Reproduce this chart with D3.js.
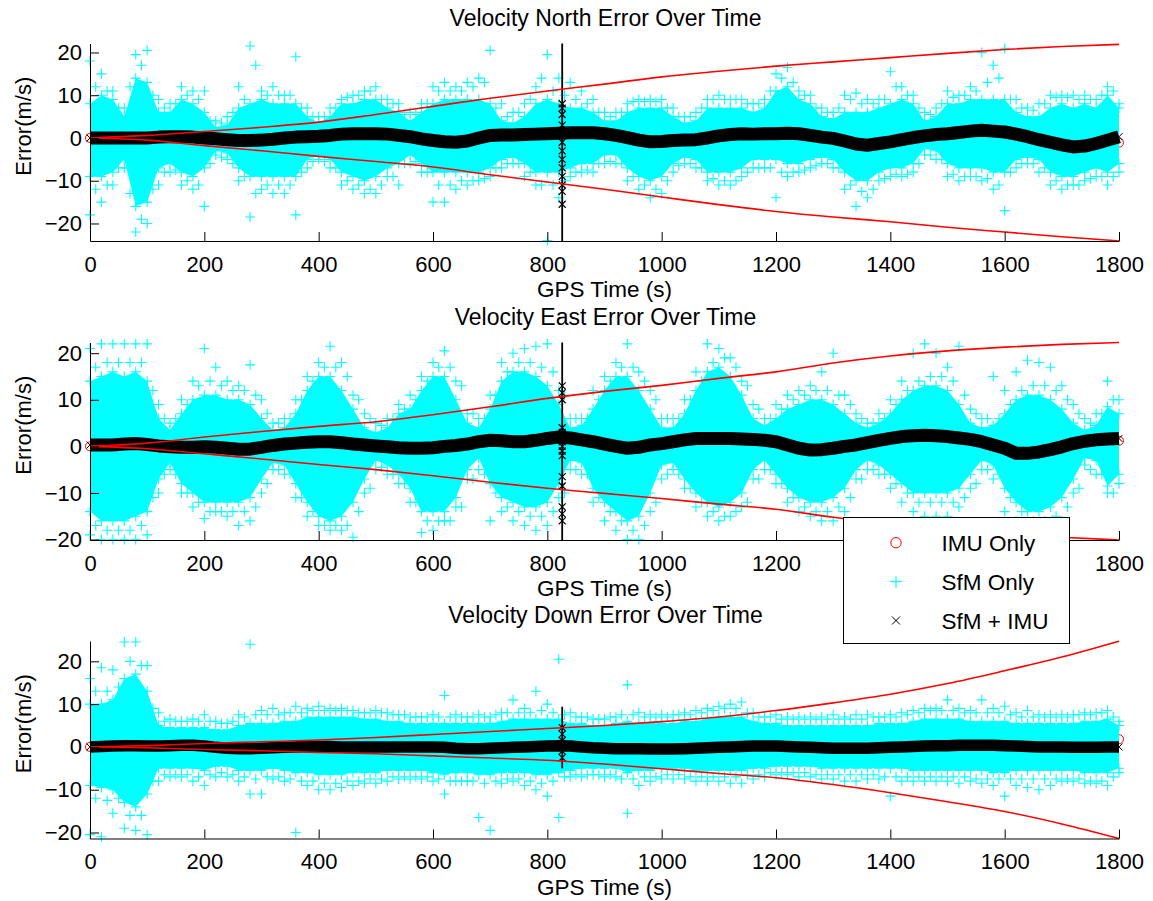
<!DOCTYPE html>
<html><head><meta charset="utf-8">
<script src="https://cdn.jsdelivr.net/npm/d3@7"></script>
<style>body{margin:0;background:#fff}svg text{font-family:"Liberation Sans",Arial,Helvetica,sans-serif;fill:#000}</style>
</head><body><svg id="c" width="1153" height="901"></svg>
<script>
// ---------- data ----------
const timeLimits = [0, 1800];
const xTickValues = [0,200,400,600,800,1000,1200,1400,1600,1800];
const yTickValues = [-20,-10,0,10,20];
const sampleTimes = [0,20,40,60,80,100,120,140,160,180,200,220,240,260,280,300,320,340,360,380,400,420,440,460,480,500,520,540,560,580,600,620,640,660,680,700,720,740,760,780,800,820,840,860,880,900,920,940,960,980,1000,1020,1040,1060,1080,1100,1120,1140,1160,1180,1200,1220,1240,1260,1280,1300,1320,1340,1360,1380,1400,1420,1440,1460,1480,1500,1520,1540,1560,1580,1600,1620,1640,1660,1680,1700,1720,1740,1760,1780,1800];
const fringeTimes = [10,30,50,70,90,110,130,150,170,190,210,230,250,270,290,310,330,350,370,390,410,430,450,470,490,510,530,550,570,590,610,630,650,670,690,710,730,750,770,790,810,830,850,870,890,910,930,950,970,990,1010,1030,1050,1070,1090,1110,1130,1150,1170,1190,1210,1230,1250,1270,1290,1310,1330,1350,1370,1390,1410,1430,1450,1470,1490,1510,1530,1550,1570,1590,1610,1630,1650,1670,1690,1710,1730,1750,1770,1790];
const boundTimes = [0,100,200,300,400,500,600,700,800,900,1000,1100,1200,1300,1400,1500,1600,1700,1800];
const imuTimes = [0, 1800];
const spikeTime = 826;
const legendLabels = ["IMU Only", "SfM Only", "SfM + IMU"];

// North
const northLimits = [-24.1, 22.1];
const northSfmHi = [8,10,9,5,14,13,6,6,9,8,6,2.5,3,7,8,9,8,8,8,5,3.5,5,8,8,9,9,7,6,4,6,8,9,9,9,9,8,4,3.5,5,8,9,8,7,7,6,4,4,6,7,7,7,5,3.5,4,7,7,7,7,6,7,11,12,9,8,5,4.5,6,6,6,7,8,9,8,4,5,8,8,9,9,9,9,6,5,5,7,8,7,8,7,10,7];
const northSfmLo = [-9,-9,-8,-5,-16,-15,-7,-6,-8,-9,-7,-3,-3.5,-7,-9,-9,-9,-9,-9,-5,-4,-5,-8,-9,-10,-9,-7,-6,-4,-6,-8,-8,-8,-8,-8,-7,-5,-4.5,-6,-8,-8,-8,-7,-6,-6,-4,-4,-7,-9,-10,-9,-6,-4.5,-5,-8,-8,-8,-7,-5,-5,-5,-6,-6,-5,-4.5,-5,-8,-10,-10,-8,-7,-7,-6,-2.5,-3,-6,-7,-7,-7,-8,-8,-5,-4.5,-5,-8,-9,-9,-8,-7,-8,-6];
const northSfmPeakHi = [18,15,11,7,19.5,20.5,9,8,12,11,11,4,5,12,21.5,11,12,10,19,7,5,7,9,10,11,12,9,8,6,8,12,13,12,13,14,20.5,8,6,8,12,19.5,14,13,11,9,6,6,8,9,9,9,7,5,6,9,10,9,9,8,9,15,16.5,11,10,7,6,10,10.5,9,9,15.5,12,10,6,7,11,10,12,20,17,21,9,7,8,10,10,10,10,9,12,8];
const northSfmPeakLo = [-18,-15,-11,-7,-22,-20,-11,-8,-11,-12,-16,-4,-5,-10,-18.5,-12,-13,-13,-18,-7,-5,-7,-11,-12,-13,-13,-9,-11,-6,-8,-15,-15,-12,-11,-10,-9,-7,-6,-9,-11,-24,-14,-9,-8,-8,-6,-6,-10,-12,-14,-13,-8,-6,-7,-10,-11,-11,-9,-7,-7,-14,-9,-8,-7,-6,-7,-12,-16,-14,-10,-9,-9,-8,-4,-5,-9,-10,-9,-10,-12,-17,-7,-6,-8,-11,-12,-11,-10,-9,-11,-8];
const northSfmFringeHi = [12,11,7,12,17,10,7,8,10,9,4,3.5,6,9,17,10,10,10,7,5,5,7,9.5,10,11,9,8,5.5,5.5,8,11,11,11,12,13,7,5,6,9,14,11,10,9,8,6,5,6,8.5,8.5,8.5,7,5,5,7,9,9,9,8,8,11,14,13,10,7,6,7,9,8,8,9,12,10,7,5.5,8,9.5,10,11,13,14,9,7,6.5,8,9.5,9.5,9,9,10,11];
const northSfmFringeLo = [-12,-11,-7,-13,-19,-12,-8,-7.5,-10,-11,-6,-4.5,-6,-9,-13,-11,-11,-11,-8,-5.5,-5.5,-7,-10,-11,-12,-11,-9,-6,-5.5,-8,-11,-11,-10,-10,-9.5,-7,-6,-6,-8,-11,-11,-10,-8,-7.5,-6,-5.5,-6,-9,-11,-12,-10,-6.5,-6,-7,-9.5,-10,-10,-8,-7,-7,-8,-8,-7.5,-6.5,-6,-7,-11,-12.5,-12,-9.5,-8.5,-8.5,-6,-4,-5,-8.5,-9,-9,-9.5,-11,-8,-6,-6,-7,-10,-11,-11,-9.5,-9,-9];
const northFused = [0,0,0,0,0,0,0.2,0.3,0.3,0.2,0,-0.2,-0.4,-0.6,-0.6,-0.5,-0.3,0,0.2,0.3,0.4,0.6,0.9,1.0,1.0,1.0,0.9,0.6,0.3,-0.2,-0.6,-0.9,-1.0,-0.7,0,0.6,0.7,0.7,0.8,0.9,1.0,1.1,1.2,1.2,1.2,1.0,0.6,0.1,-0.5,-0.9,-0.8,-0.6,-0.5,-0.4,0,0.5,0.8,1.0,0.9,1.0,1.0,1.1,1.0,0.6,0.2,-0.1,-0.7,-1.4,-1.7,-1.3,-0.9,-0.4,0.1,0.5,0.8,1.0,1.3,1.6,1.8,1.6,1.4,0.9,0.3,-0.4,-1.0,-1.6,-2.1,-1.9,-1.3,-0.5,0.3];
const northImuUpper = [0,0.6,1.5,2.5,3.7,5.5,7.4,9.3,11.0,12.6,14.3,15.6,16.8,17.8,18.8,19.8,20.7,21.4,21.9];
const northImuLower = [0,-0.5,-1.8,-3.0,-4.3,-5.5,-6.8,-8.6,-10.3,-12.0,-13.8,-15.6,-17.2,-18.5,-19.6,-20.9,-22.0,-23.1,-24.1];
const northImu = [0, -1.1];
const northSpikeRange = [-24.1, 22.1];
const northSpikeMarks = [8,7,5.5,3,1,-1,-3,-5,-7,-9,-11,-12.5,-15.5];

// East
const eastLimits = [-20.1, 22.3];
const eastSfmHi = [14,15,16,15,16,14,6,3.5,7,10,11,11,10,10,9,6,3.5,4,7,12,15,15,12,8,4,3,4,7,8,12,15,15,10,5,4,8,14,16,16,15,13,9,4,4.5,8,12,15,15,12,8,4,4,7,12,16,17,15,11,6,4.5,6,8,9,10,10,9,7,5,4,5,7,10,12,13,13,12,9,5,4,4.5,7,10,11,11,10,8,5,3.5,4.5,8.5,7];
const eastSfmLo = [-14,-16,-16,-16,-15,-14,-7,-3.5,-8,-10,-12,-12,-12,-12,-11,-7,-3.5,-4,-8,-12,-15,-16,-15,-12,-7,-3,-4,-6,-9,-14,-14,-14,-11,-5,-2.5,-8,-11,-12,-13,-13,-12,-8,-3,-3.5,-9,-12,-14,-16,-15,-10,-4,-3.5,-7,-10,-12,-13,-12,-10,-5,-3,-6,-9,-11,-12,-12,-11,-9,-5,-3,-4,-6,-8,-10,-10,-10,-10,-9,-6,-3,-4,-9,-12,-14,-14,-13,-11,-7,-2.5,-3,-8.5,-6];
const eastSfmPeakHi = [21,22,22,22,22,22,9,5,10,14,21,17,14,13,17.5,10,5,6,10,15,18,21.5,18,11,7,5,6,9,11,15,18,20.5,14,7,6,11,18,20,21,21.5,22,12,6,6,12,15,18,22,16,12,6,6,10,16,22,21,19,14,9,6,9,11,12,13,16,20,11,7,5,7,10,14,20,22,20,17,21.5,8,6,15,12,16,18.5,18,17,13,9,6,7,14,10];
const eastSfmPeakLo = [-19,-20,-20,-20,-20,-19,-10,-5,-10,-13,-15.5,-14,-15,-17,-16,-10,-5,-6,-11,-15,-17,-18,-18,-19.5,-10,-5,-6,-8,-12,-18.5,-18,-16,-13,-7,-5,-16,-14,-16,-17,-18,-17,-11,-5,-6,-12,-16,-18,-20,-20,-14,-7,-5,-9,-13,-15,-16,-15,-13,-7,-5,-8,-12,-14,-15,-16,-16,-14,-7,-5,-6,-9,-12,-14,-15,-15,-15,-13,-9,-5,-7,-14,-16,-18,-19,-18,-16,-10,-4,-6,-10,-8];
const eastSfmFringeHi = [17,18,18,18,18,12,6,6,9,13,14,13,12,12,11,7,5,6,10,14,17,17,15,10,6,4.5,6,8,10,14,17,17,13,7,6,11,16,18,18,17,16,11,6,6,10,14,17,17,14,10,6,6,10,14,18,19,17,13,8,6,8,10,11,12,12,11,9,6,5,6,9,12,14,15,15,14,11,7,6,6,9,12,13,13,12,10,7,5,7,10];
const eastSfmFringeLo = [-17,-18,-18,-18,-17,-11,-6,-6,-10,-12,-14,-14,-14,-14,-13,-8,-5,-6,-11,-14,-17,-17,-17,-14,-9,-4.5,-6,-8,-12,-16,-16,-16,-13,-7,-6,-10,-13,-14,-15,-15,-14,-10,-5,-6,-11,-14,-16,-18,-17,-12,-6,-6,-9,-12,-14,-15,-14,-12,-7,-5,-8,-11,-13,-14,-14,-13,-11,-7,-5,-6,-8,-10,-12,-12,-12,-12,-11,-8,-5,-6,-11,-14,-16,-16,-15,-13,-9,-5,-6,-10];
const eastFused = [0.3,0.3,0.3,0.5,0.6,0.4,0.1,-0.1,-0.2,-0.2,-0.1,-0.2,-0.4,-0.6,-0.6,-0.2,0.2,0.5,0.7,0.9,1.0,1.0,0.8,0.5,0.3,0.1,-0.1,-0.3,-0.4,-0.4,-0.3,0,0.2,0.5,1.0,1.3,1.2,1.0,1.0,1.3,1.7,2.0,1.8,1.4,1.0,0.5,0,-0.4,-0.2,0.3,0.6,1.0,1.4,1.7,1.7,1.7,1.7,1.6,1.5,1.3,1.0,0.3,-0.4,-0.8,-0.7,-0.4,0,0.3,0.8,1.3,1.7,2.1,2.3,2.4,2.3,2.1,1.8,1.5,1.0,0.3,-0.4,-1.5,-1.5,-1.2,-0.7,-0.1,0.6,1.1,1.4,1.6,1.7];
const eastImuUpper = [0,0.7,2.0,3.2,4.3,5.3,6.8,8.5,10.3,11.8,13.1,14.6,16.0,17.9,19.4,20.5,21.3,21.9,22.3];
const eastImuLower = [0,-0.5,-1.6,-2.7,-3.9,-5.0,-6.3,-7.7,-9.0,-10.1,-11.2,-12.4,-13.5,-15.2,-16.6,-17.8,-18.8,-19.5,-20.1];
const eastImu = [0, 1.2];
const eastSpikeRange = [-20.1, 22.3];
const eastSpikeMarks = [13,11.5,10,4,3,2,1,0,-1,-2,-6.5,-8.5,-13,-14.5,-16];

// Down
const downLimits = [-21.4, 24.75];
const downSfmHi = [10,10,11,16,17,13,5,4.5,4.5,4.5,4.5,4,4,5,5.5,5.5,5.5,6,6,7,7,7,7,7,6.5,6.5,6,6,5.5,5.5,5.5,5.5,5.5,5.5,5.5,5.5,6,6.5,6.5,6.5,6.5,6.5,5.5,5.5,5,5,5.5,6,5.5,5.5,5.5,5.5,6,6,6.5,7,7,7,6,5.5,5.5,5,5,5,5,5,5,5,5,5.5,5.5,5.5,6,6.5,6.5,6.5,6.5,6,6,6,6,5.5,5.5,5.5,5.5,5.5,5.5,6,6,6.5,5];
const downSfmLo = [-9,-9.5,-10,-13,-14,-11,-5,-5,-5,-5,-5.5,-4.5,-4.5,-5.5,-5.5,-5.5,-5,-5.5,-6,-6,-6.5,-6.5,-6.5,-6,-6,-6,-5.5,-5.5,-5.5,-5.5,-6,-6.5,-6,-6,-6.5,-6.5,-6,-6,-6,-6.5,-6.5,-6,-5.5,-5,-5,-5,-5,-6,-5.5,-5.5,-5,-5,-5,-5.5,-5.5,-5.5,-5.5,-5.5,-5,-5,-4.5,-4.5,-4.5,-4.5,-5,-5,-5,-5,-5,-5,-5,-5,-5.5,-5.5,-5.5,-5.5,-5.5,-5.5,-5.5,-6,-6,-5.5,-5.5,-5.5,-5.5,-5.5,-5.5,-6,-6,-6,-5];
const downSfmPeakHi = [16,18.5,18,24.5,24.5,19,8,6.5,6,6.5,7.5,6,5.5,7.5,24,8.5,9,8,9.5,9,9.5,9,9,8.5,8,8.5,8,7.5,7,7,7.5,12,7.5,7,7.5,7,8,11,9,13,10,20.5,8,7,6.5,6.5,7,14.5,8,7.5,7.5,7.5,8,8.5,9,9.5,10,10.5,8,7,7.5,7,7,7,7,7.5,7,7.5,7.5,7,7.5,8,8.5,9,9,11,9,8.5,11,9,9.5,8,8.5,7.5,7.5,7.5,7.5,8,8,8.5,6];
const downSfmPeakLo = [-20.5,-21,-15.5,-19,-19.5,-20.5,-8,-7,-7,-8,-9,-7,-7,-8,-11,-11,-7.5,-8,-20,-9,-10,-10,-9.5,-9,-8.5,-8.5,-8,-7.5,-7.5,-7.5,-8,-11,-8,-8,-16.5,-19.5,-8.5,-8,-9,-10,-11.5,-16.5,-7,-7,-6.5,-7,-7,-15.5,-9,-8,-7.5,-7.5,-7.5,-8,-8,-8,-8.5,-8.5,-7.5,-7,-6.5,-6.5,-7,-7,-7.5,-7.5,-8,-8,-7.5,-7.5,-11.5,-8,-8,-8,-8,-8,-8.5,-8,-8.5,-9,-11.5,-9,-9.5,-10,-9,-8,-8,-8.5,-8.5,-9,-6];
const downSfmFringeHi = [13,13,14,20,19,9,6,6,6,6,6,5.5,6,7,7.5,7.5,7.5,8,8,8.5,8.5,8.5,8.5,8,8,8,7.5,7.5,7,7,7,7,7,7,7,7.5,8,8,8,8.5,8,7.5,7,7,6.5,7,7.5,7.5,7,7,7,7.5,7.5,8,8.5,9,9,8,7,7,6.5,6.5,6.5,6.5,6.5,6.5,6.5,6.5,7,7,7,7.5,8,8.5,8.5,8.5,8,8,8,8,7.5,7,7,7,7,7,7.5,7.5,8,7];
const downSfmFringeLo = [-12,-12.5,-12,-16,-16,-8,-6.5,-6.5,-6.5,-7,-6.5,-6,-6.5,-7,-7.5,-7,-7,-7.5,-8,-8,-8.5,-8.5,-8,-8,-7.5,-7.5,-7,-7,-7,-7,-7.5,-8,-8,-8,-8.5,-8,-7.5,-7.5,-8,-8.5,-8,-7,-6.5,-6.5,-6.5,-6.5,-7.5,-7.5,-7,-7,-6.5,-6.5,-7,-7,-7,-7,-7,-6.5,-6.5,-6,-6,-6,-6,-6.5,-6.5,-6.5,-6.5,-6.5,-6.5,-7,-7,-7,-7,-7,-7,-7,-7,-7.5,-7.5,-7.5,-7.5,-7.5,-7.5,-7.5,-7.5,-7.5,-7.5,-8,-8,-7];
const downFused = [0,0.1,0.2,0.3,0.3,0.2,0.2,0.3,0.4,0.4,0.2,-0.1,-0.3,-0.4,-0.4,-0.3,-0.2,-0.1,0,0.1,0.1,0.1,0,0,0,0,0,0,0,0,0,-0.1,-0.3,-0.4,-0.4,-0.3,-0.2,-0.1,0,0.1,0.2,0.3,0.2,0,-0.2,-0.3,-0.4,-0.4,-0.4,-0.5,-0.5,-0.5,-0.4,-0.3,-0.2,-0.1,0,0.1,0.2,0.2,0.2,0.1,0,-0.1,-0.2,-0.3,-0.3,-0.3,-0.3,-0.2,-0.1,0,0.1,0.2,0.3,0.3,0.4,0.4,0.4,0.4,0.3,0.2,0.1,0,0,0,-0.1,-0.1,-0.1,0,0];
const downImuUpper = [0,0.3,0.8,1.2,1.6,2.2,2.9,3.6,4.3,5.0,5.9,7.0,8.5,10.3,12.3,14.8,17.8,21.0,24.7];
const downImuLower = [0,-0.2,-0.6,-0.9,-1.3,-1.6,-2.1,-2.6,-3.1,-4.0,-5.1,-6.2,-7.2,-8.8,-10.7,-12.8,-15.1,-18.0,-21.4];
const downImu = [0, 1.8];
const downSpikeRange = [-5, 9.4];
const downSpikeMarks = [4.5,3,1.5,0,-1,-2.5];

// ---------- layout / style ----------
const FONT = '"Liberation Sans", Arial, Helvetica, sans-serif';
const CYAN = '#00ffff', RED = '#ff0000', BLACK = '#000000';
const plotLeft = 90, plotRight = 1119, plotH = 197.5;
const legendBox = {x:843.5, y:517.5, w:226, h:126};
const panels = [
  {title:'Velocity North Error Over Time', top:43.5, lim:northLimits, hi:northSfmHi, lo:northSfmLo, pkHi:northSfmPeakHi, pkLo:northSfmPeakLo, frHi:northSfmFringeHi, frLo:northSfmFringeLo, fused:northFused, up:northImuUpper, dn:northImuLower, imu:northImu, spikeRange:northSpikeRange, spikeMarks:northSpikeMarks, bandW:13},
  {title:'Velocity East Error Over Time', top:342.5, lim:eastLimits, hi:eastSfmHi, lo:eastSfmLo, pkHi:eastSfmPeakHi, pkLo:eastSfmPeakLo, frHi:eastSfmFringeHi, frLo:eastSfmFringeLo, fused:eastFused, up:eastImuUpper, dn:eastImuLower, imu:eastImu, spikeRange:eastSpikeRange, spikeMarks:eastSpikeMarks, bandW:13},
  {title:'Velocity Down Error Over Time', top:641, lim:downLimits, hi:downSfmHi, lo:downSfmLo, pkHi:downSfmPeakHi, pkLo:downSfmPeakLo, frHi:downSfmFringeHi, frLo:downSfmFringeLo, fused:downFused, up:downImuUpper, dn:downImuLower, imu:downImu, spikeRange:downSpikeRange, spikeMarks:downSpikeMarks, bandW:11.5}
];

const svg = d3.select('#c');
svg.append('rect').attr('width',1153).attr('height',901).attr('fill','#fff');
const x = d3.scaleLinear().domain(timeLimits).range([plotLeft, plotRight]);
const plusPath = 'M-5,0H5M0,-5V5';
const xPath = 'M-3.5,-3.5L3.5,3.5M-3.5,3.5L3.5,-3.5';
const fmt = d3.format('d');

panels.forEach(p => {
  const y = d3.scaleLinear().domain(p.lim).range([p.top + plotH, p.top]);
  const g = svg.append('g');
  const band = sampleTimes.map((t,i) => ({t, hi:p.hi[i], lo:p.lo[i]}));

  // IMU Only markers (mostly hidden)
  g.selectAll('circle.imu').data(imuTimes.map((t,i)=>({t, v:p.imu[i]}))).join('circle')
    .attr('cx', d=>x(d.t)).attr('cy', d=>y(d.v)).attr('r',4.5)
    .attr('fill','none').attr('stroke',RED).attr('stroke-width',1);

  // SfM only: dense cloud + markers
  g.append('path').datum(band)
    .attr('d', d3.area().x(d=>x(d.t)).y0(d=>y(d.lo)).y1(d=>y(d.hi)))
    .attr('fill', CYAN);
  const plusPts = [];
  sampleTimes.forEach((t,i) => {
    plusPts.push({t, v:p.hi[i]}, {t, v:p.lo[i]}, {t, v:p.pkHi[i]}, {t, v:p.pkLo[i]});
  });
  fringeTimes.forEach((t,i) => {
    plusPts.push({t, v:p.frHi[i]}, {t, v:p.frLo[i]});
  });
  g.append('g').selectAll('path').data(plusPts).join('path')
    .attr('transform', d=>`translate(${x(d.t)},${y(d.v)})`)
    .attr('d', plusPath).attr('fill','none').attr('stroke',CYAN).attr('stroke-width',1.1);

  // SfM + IMU fused estimate
  const fusedPts = sampleTimes.map((t,i)=>({t, v:p.fused[i]}));
  g.append('path').datum(fusedPts)
    .attr('d', d3.line().x(d=>x(d.t)).y(d=>y(d.v)))
    .attr('fill','none').attr('stroke',BLACK).attr('stroke-width',p.bandW).attr('stroke-linejoin','round');
  g.append('g').selectAll('path').data(fusedPts).join('path')
    .attr('transform', d=>`translate(${x(d.t)},${y(d.v)})`)
    .attr('d', xPath).attr('fill','none').attr('stroke',BLACK).attr('stroke-width',1);

  // spike at GPS outage
  g.append('line').attr('x1',x(spikeTime)).attr('x2',x(spikeTime))
    .attr('y1',y(p.spikeRange[0])).attr('y2',y(p.spikeRange[1]))
    .attr('stroke',BLACK).attr('stroke-width',1.8);
  g.append('g').selectAll('path').data(p.spikeMarks).join('path')
    .attr('transform', v=>`translate(${x(spikeTime)},${y(v)})`)
    .attr('d', xPath).attr('fill','none').attr('stroke',BLACK).attr('stroke-width',1.2);

  // IMU error bounds
  [p.up, p.dn].forEach(arr => {
    g.append('path').datum(boundTimes.map((t,i)=>({t, v:arr[i]})))
      .attr('d', d3.line().x(d=>x(d.t)).y(d=>y(d.v)).curve(d3.curveMonotoneX))
      .attr('fill','none').attr('stroke',RED).attr('stroke-width',1.6);
  });

  // axes
  const ax = svg.append('g').attr('transform',`translate(0,${p.top+plotH})`)
    .call(d3.axisBottom(x).tickValues(xTickValues).tickFormat(fmt).tickSizeInner(-9).tickSizeOuter(0).tickPadding(15));
  const ay = svg.append('g').attr('transform',`translate(${plotLeft},0)`)
    .call(d3.axisLeft(y).tickValues(yTickValues).tickFormat(fmt).tickSizeInner(-9).tickSizeOuter(0).tickPadding(8));
  [ax, ay].forEach(a => {
    a.attr('font-size',22).attr('font-family',FONT);
    a.selectAll('path,line').attr('stroke','#000');
    a.selectAll('text').attr('fill','#000');
  });
  // tick labels hidden behind the legend box are not drawn
  const axisY = p.top + plotH;
  if (axisY + 35 > legendBox.y && axisY < legendBox.y + legendBox.h) {
    ax.selectAll('.tick').filter(d => x(d) + 28 > legendBox.x && x(d) - 28 < legendBox.x + legendBox.w)
      .select('text').remove();
  }

  // texts
  svg.append('text').attr('x',(plotLeft+plotRight)/2+1).attr('y',p.top-18)
    .attr('text-anchor','middle').attr('font-size',23).attr('font-family',FONT).text(p.title);
  svg.append('text').attr('x',(plotLeft+plotRight)/2).attr('y',p.top+plotH+56)
    .attr('text-anchor','middle').attr('font-size',22.5).attr('font-family',FONT).text('GPS Time (s)');
  svg.append('text').attr('transform',`translate(31,${p.top+plotH/2-16}) rotate(-90)`)
    .attr('text-anchor','middle').attr('font-size',22).attr('font-family',FONT).text('Error(m/s)');
});

// legend
const lg = svg.append('g');
lg.append('rect').attr('x',legendBox.x).attr('y',legendBox.y).attr('width',legendBox.w).attr('height',legendBox.h)
  .attr('fill','#fff').attr('stroke','#000').attr('stroke-width',1);
const legendY = [542.7, 581.7, 620.5];
lg.append('circle').attr('cx',896).attr('cy',legendY[0]).attr('r',5.2).attr('fill','none').attr('stroke',RED).attr('stroke-width',1);
lg.append('path').attr('transform',`translate(896,${legendY[1]})`).attr('d','M-6,0H6M0,-6V6').attr('stroke',CYAN).attr('stroke-width',1.2).attr('fill','none');
lg.append('path').attr('transform',`translate(896,${legendY[2]})`).attr('d','M-4,-4L4,4M-4,4L4,-4').attr('stroke',BLACK).attr('stroke-width',1).attr('fill','none');
legendLabels.forEach((s,i) => {
  lg.append('text').attr('x',941.5).attr('y',legendY[i]+8).attr('font-size',22.5).attr('font-family',FONT).text(s);
});
</script></body></html>
